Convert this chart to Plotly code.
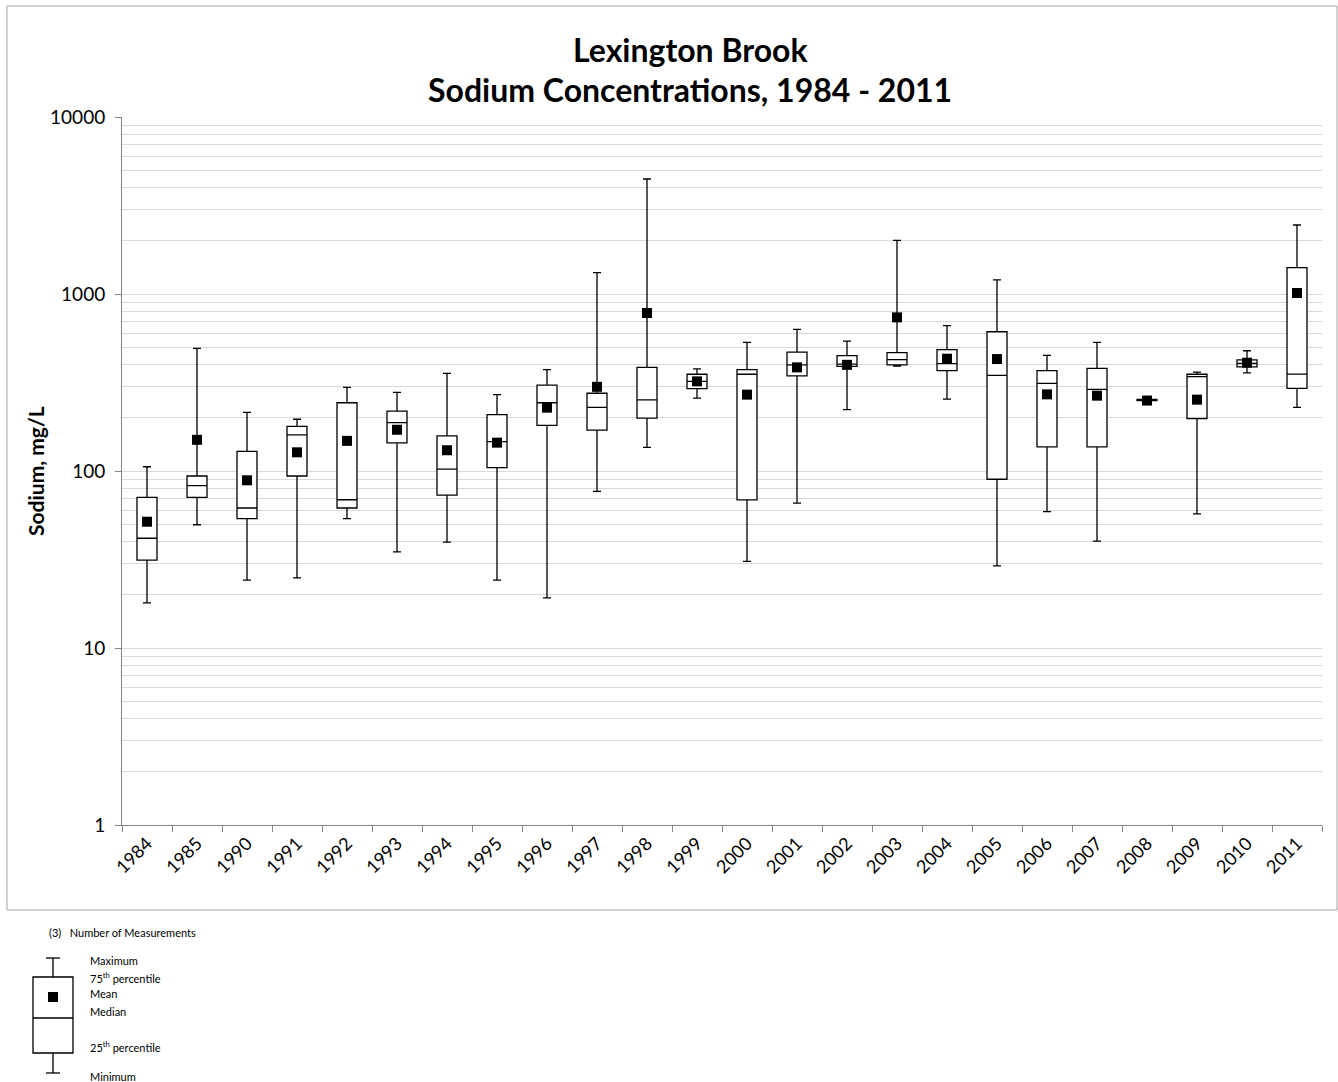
import plotly.graph_objects as go

# Annual sodium statistics, Lexington Brook (mg/L)
years = ["1984", "1985", "1990", "1991", "1992", "1993", "1994", "1995", "1996", "1997",
         "1998", "1999", "2000", "2001", "2002", "2003", "2004", "2005", "2006", "2007",
         "2008", "2009", "2010", "2011"]
minimum = [18.0, 49.7, 24.2, 24.9, 53.8, 34.9, 39.6, 24.2, 19.2, 76.8,
           136, 258, 30.9, 65.9, 222, 392, 255, 29.1, 58.9, 40.2,
           246, 57.2, 358, 229]
pct25 = [31.4, 71, 53.8, 93.7, 61.8, 144, 73.1, 104.4, 181, 170,
         199, 292, 68.6, 345, 390, 398, 369, 89.8, 137, 137,
         250, 198, 388, 293]
median = [41.7, 82.6, 61.8, 160, 68.8, 187.5, 102.6, 146.4, 243, 229,
          252, 321, 352, 398, 402, 426, 404, 347, 313, 289,
          252, 341, 405, 353]
pct75 = [71, 93.7, 129, 178.9, 243, 218, 158, 208, 306, 275,
         385, 352, 373.6, 470, 448, 466, 485, 612, 369, 380,
         254, 352, 424, 1409]
maximum = [105.7, 493, 214.5, 196, 297, 278, 356, 270, 373.6, 1320,
           4464, 378, 533, 631, 542, 2011, 662, 1202, 450, 533,
           258, 362, 478, 2454]
mean = [51.7, 150, 88.6, 127.5, 148, 171, 131, 144.6, 228, 299,
        781, 321, 270, 385, 398, 738, 431, 429, 271, 266.5,
        250, 253, 409, 1013]

y_tick_values = [1, 10, 100, 1000, 10000]
y_tick_text = ["1", "10", "100", "1000", "10000"]

FONT = "Lato"
AXIS_GRAY = "#868686"
GRID_GRAY = "#d9d9d9"

# Plot area in pixels: x 122..1322, y 117..825
PL, PR, PT, PB = 122, 1322, 117, 825


def px_x(px):
    return (px - PL) / (PR - PL)


def px_y(py):
    return (PB - py) / (PB - PT)


fig = go.Figure()

fig.add_trace(go.Box(
    x=years,
    q1=pct25,
    median=median,
    q3=pct75,
    lowerfence=minimum,
    upperfence=maximum,
    fillcolor="white",
    line=dict(color="black", width=1.3),
    width=0.4,
    whiskerwidth=0.4,
    boxpoints=False,
    showlegend=False,
    name="Sodium",
))

fig.add_trace(go.Scatter(
    x=years,
    y=mean,
    mode="markers",
    marker=dict(symbol="square", size=10, color="black", line=dict(width=0)),
    showlegend=False,
    name="Mean",
))

# Minor log gridlines at 2..9 within each decade
minor_vals = [d * 10 ** k for k in range(4) for d in range(2, 10)]

fig.update_layout(
    width=1338,
    height=1082,
    margin=dict(l=PL, r=1338 - PR, t=PT, b=1082 - PB),
    paper_bgcolor="white",
    plot_bgcolor="white",
    font=dict(family=FONT, color="black"),
    showlegend=False,
    xaxis=dict(
        type="category",
        range=[-0.5, len(years) - 0.5],
        tickson="boundaries",
        ticks="outside",
        ticklen=6,
        tickcolor=AXIS_GRAY,
        showline=True,
        linecolor=AXIS_GRAY,
        linewidth=1,
        showgrid=False,
        tickangle=-45,
        tickfont=dict(family=FONT, size=18, color="black"),
        zeroline=False,
    ),
    yaxis=dict(
        type="log",
        range=[0, 4],
        tickmode="array",
        tickvals=y_tick_values,
        ticktext=y_tick_text,
        ticks="outside",
        ticklen=6,
        tickcolor=AXIS_GRAY,
        ticklabelstandoff=6,
        showline=True,
        linecolor=AXIS_GRAY,
        linewidth=1,
        showgrid=True,
        gridcolor=GRID_GRAY,
        gridwidth=1,
        tickfont=dict(family=FONT, size=19, color="black"),
        minor=dict(tickmode="array", tickvals=minor_vals, showgrid=True,
                   gridcolor=GRID_GRAY, gridwidth=1, ticks=""),
        zeroline=False,
    ),
)

annotations = [
    dict(text="<b>Lexington Brook</b>", x=px_x(690), y=px_y(49), font=dict(size=32)),
    dict(text="<b>Sodium Concentrations, 1984 - 2011</b>", x=px_x(690), y=px_y(89), font=dict(size=32)),
    dict(text="<b>Sodium, mg/L</b>", x=px_x(35), y=px_y(471), textangle=-90, font=dict(size=21)),
    dict(text="(3)   Number of Measurements", x=px_x(47), y=px_y(932), xanchor="left", font=dict(size=11)),
    dict(text="Maximum", x=px_x(88), y=px_y(960), xanchor="left", font=dict(size=11)),
    dict(text="75<sup>th</sup> percentile", x=px_x(88), y=px_y(977), xanchor="left", font=dict(size=11)),
    dict(text="Mean", x=px_x(88), y=px_y(994), xanchor="left", font=dict(size=11)),
    dict(text="Median", x=px_x(88), y=px_y(1011), xanchor="left", font=dict(size=11)),
    dict(text="25<sup>th</sup> percentile", x=px_x(88), y=px_y(1046), xanchor="left", font=dict(size=11)),
    dict(text="Minimum", x=px_x(88), y=px_y(1076), xanchor="left", font=dict(size=11)),
]
for a in annotations:
    a.setdefault("xanchor", "center")
    fig.add_annotation(xref="paper", yref="paper", yanchor="middle", showarrow=False,
                       font=dict(family=FONT, color="black", **a.pop("font")), **a)

line_k = dict(color="black", width=1.3)
shapes = [
    # chart frame
    dict(type="rect", x0=px_x(7), x1=px_x(1337), y0=px_y(910), y1=px_y(6),
         line=dict(color="#a6a6a6", width=1)),
    # key box
    dict(type="rect", x0=px_x(33), x1=px_x(73), y0=px_y(1053), y1=px_y(977), line=line_k),
    dict(type="line", x0=px_x(33), x1=px_x(73), y0=px_y(1018), y1=px_y(1018), line=line_k),
    dict(type="line", x0=px_x(53), x1=px_x(53), y0=px_y(977), y1=px_y(958), line=line_k),
    dict(type="line", x0=px_x(53), x1=px_x(53), y0=px_y(1053), y1=px_y(1073), line=line_k),
    dict(type="line", x0=px_x(46), x1=px_x(60), y0=px_y(958), y1=px_y(958), line=line_k),
    dict(type="line", x0=px_x(46), x1=px_x(60), y0=px_y(1073), y1=px_y(1073), line=line_k),
    dict(type="rect", x0=px_x(48), x1=px_x(58), y0=px_y(1002), y1=px_y(992),
         fillcolor="black", line=dict(width=0)),
]
for s in shapes:
    fig.add_shape(xref="paper", yref="paper", layer="above", **s)

fig.write_html("out.html")
